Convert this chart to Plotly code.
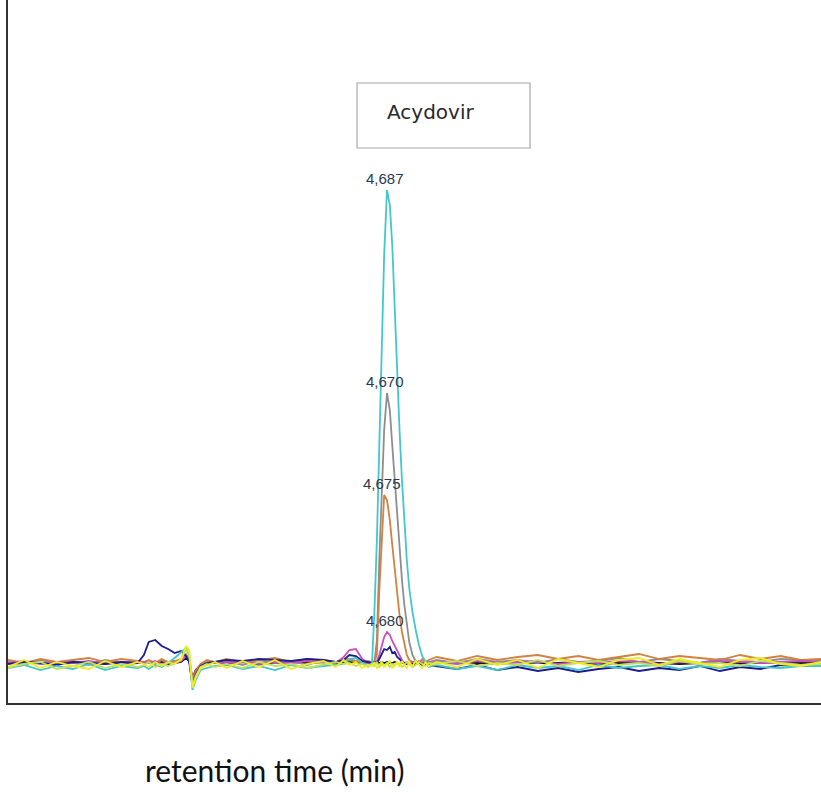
import plotly.graph_objects as go

# Retention time grid (min)
time_min = [
    0.0, 0.2, 0.4, 0.6, 0.8, 1.0, 1.2, 1.4, 1.6,
    1.68, 1.74, 1.82, 1.9, 1.98, 2.06, 2.14, 2.2, 2.24, 2.28, 2.32, 2.38, 2.46, 2.56,
    2.7, 2.9, 3.1, 3.3, 3.5, 3.7, 3.9, 4.05, 4.15, 4.22, 4.3, 4.38, 4.45,
    4.50, 4.53, 4.56, 4.59, 4.62, 4.65, 4.685, 4.72, 4.75, 4.78, 4.81, 4.84, 4.87, 4.90,
    4.93, 4.96, 5.0, 5.04, 5.08, 5.12, 5.16, 5.2,
    5.3, 5.55, 5.8, 6.05, 6.3, 6.55, 6.8, 7.05, 7.3, 7.55, 7.8, 8.05, 8.3, 8.55, 8.8,
    9.05, 9.3, 9.55, 9.8, 10.05,
]

# Detector signal (mAU) per injection
cyan_mau = [
    -0.5, -0.2, -0.7, -0.3, -0.6, -0.1, -0.7, -0.3, -0.5,
    -0.3, -0.6, -0.2, -0.4, 0.0, 0.5, 1.1, 1.5, 0.8, -2.7, -1.7, -0.7, -0.5, -0.3,
    -0.2, -0.6, -0.3, -0.7, -0.2, -0.5, -0.3, -0.2, -0.1, 0.4, 0.5, 0.0, -0.3,
    0.0, 5.3, 12.3, 21.3, 31.3, 40.8, 47.3, 45.8, 41.8, 35.3, 28.8, 23.3, 18.3, 13.8,
    10.3, 7.5, 5.1, 3.3, 1.8, 0.7, 0.1, -0.4,
    -0.2, -0.6, -0.3, -0.7, -0.2, -0.5, -0.3, -0.7, -0.2, -0.5, -0.3, -0.2, -0.6, -0.3, -0.5,
    -0.2, -0.4, -0.5, -0.3, -0.3,
]
gray_mau = [
    0.1, -0.2, 0.3, 0.0, 0.2, -0.2, 0.3, 0.0, 0.1,
    0.0, 0.2, -0.1, 0.3, 0.0, 0.1, 0.3, 0.9, 0.4, -1.8, -0.9, -0.2, 0.1, 0.0,
    0.2, -0.2, 0.3, 0.0, 0.2, -0.2, 0.3, 0.1, 0.2, 0.3, 0.2, 0.0, 0.1,
    0.0, 0.1, 2.3, 10.3, 17.3, 23.3, 27.0, 25.3, 21.8, 18.3, 14.8, 11.3, 8.3, 5.8,
    3.8, 2.1, 0.8, 0.2, 0.0, 0.1, -0.1, 0.1,
    0.3, 0.0, 0.4, 0.1, 0.3, 0.0, 0.4, 0.1, 0.2, 0.5, 0.1, 0.4, 0.2, 0.0, 0.4,
    0.2, 0.1, 0.4, 0.3, 0.3,
]
orange_mau = [
    0.3, 0.0, 0.4, 0.1, 0.3, 0.5, 0.1, 0.4, 0.2,
    0.1, 0.3, 0.0, 0.4, 0.1, 0.2, 0.4, 0.8, 0.5, -1.6, -0.8, -0.1, 0.3, 0.1,
    0.4, 0.1, 0.3, 0.5, 0.1, 0.4, 0.2, 0.1, 0.3, 0.4, 0.2, 0.1, 0.2,
    0.1, 0.2, 0.8, 7.3, 12.3, 16.8, 16.3, 14.3, 11.8, 9.3, 6.8, 4.8, 3.1, 1.8,
    0.8, 0.3, 0.1, 0.2, 0.0, 0.4, 0.1, 0.3,
    0.6, 0.2, 0.7, 0.3, 0.6, 0.8, 0.4, 0.7, 0.3, 0.6, 0.9, 0.4, 0.7, 0.5, 0.3,
    0.8, 0.4, 0.7, 0.3, 0.4,
]
magenta_mau = [
    0.0, 0.2, -0.1, 0.1, 0.0, 0.2, -0.1, 0.1, 0.0,
    0.1, 0.0, 0.2, -0.1, 0.1, 0.0, 0.2, 0.7, 0.3, -1.9, -1.0, -0.3, 0.0, 0.1,
    0.0, 0.2, -0.1, 0.1, 0.0, 0.2, 0.1, 0.0, 0.6, 1.3, 1.4, 0.4, 0.0,
    0.1, 0.0, 0.2, 0.8, 1.8, 2.6, 3.1, 2.8, 2.2, 1.7, 1.2, 0.7, 0.3, 0.0,
    0.1, -0.1, 0.1, 0.0, 0.2, 0.0, 0.1, 0.0,
    0.1, -0.1, 0.2, 0.0, 0.1, 0.2, -0.1, 0.1, 0.0, 0.2, 0.1, -0.1, 0.1, 0.0, 0.2,
    0.1, 0.0, 0.1, 0.2, 0.1,
]
navy_mau = [
    -0.1, 0.1, 0.0, -0.2, 0.1, 0.0, -0.1, 0.1, 0.0,
    0.8, 2.1, 2.3, 1.7, 1.4, 1.0, 1.2, 0.7, 0.1, -2.2, -1.2, -0.3, 0.0, 0.1,
    0.3, 0.2, 0.4, 0.3, 0.2, 0.4, 0.3, 0.1, 0.3, 0.8, 0.7, 0.2, 0.1,
    0.0, 0.1, 0.0, 0.4, 1.0, 1.4, 1.3, 1.6, 1.0, 1.1, 0.6, 0.4, 0.1, 0.0,
    -0.1, 0.0, -0.2, -0.1, 0.0, -0.2, -0.1, -0.2,
    -0.3, -0.6, -0.2, -0.7, -0.4, -0.8, -0.5, -0.9, -0.6, -0.4, -0.8, -0.5, -0.7, -0.3, -0.8,
    -0.4, -0.6, -0.2, -0.3, -0.2,
]
black_mau = [
    0.0, 0.1, 0.0, -0.1, 0.1, 0.0, 0.1, -0.1, 0.0,
    0.0, 0.1, 0.0, 0.1, -0.1, 0.0, 0.1, 0.5, 0.2, -1.5, -0.7, -0.2, 0.0, 0.1,
    0.0, 0.1, -0.1, 0.0, 0.1, 0.0, 0.1, 0.0, 0.0, 0.1, 0.0, 0.1, 0.0,
    0.0, 0.0, 0.0, 0.0, 0.1, 0.0, 0.1, 0.0, 0.0, 0.1, 0.0, -0.1, 0.0, 0.0,
    -0.1, 0.0, 0.0, 0.1, 0.0, 0.0, 0.1, 0.0,
    0.0, 0.1, 0.0, -0.1, 0.1, 0.0, 0.0, 0.1, -0.1, 0.0, 0.1, 0.0, -0.1, 0.0, 0.1,
    0.0, 0.0, 0.1, 0.0, 0.1,
]
lime_mau = [
    -0.5, -0.1, 0.1, -0.6, -0.3, 0.1, -0.5, -0.1, -0.4,
    -0.2, 0.1, -0.4, -0.1, -0.3, 0.0, 0.3, 1.4, 1.0, -2.2, -1.3, -0.4, -0.1, -0.4,
    -0.1, -0.5, 0.1, -0.3, -0.1, -0.5, -0.2, 0.1, -0.1, 0.0, -0.3, -0.1, -0.4,
    -0.1, -0.3, 0.1, -0.4, -0.1, -0.3, 0.0, -0.4, -0.1, -0.3, 0.1, -0.1, -0.4, -0.2,
    0.1, -0.1, -0.4, -0.2, 0.1, -0.1, -0.3, 0.0,
    -0.1, 0.2, -0.3, 0.0, -0.2, 0.3, -0.3, 0.0, 0.2, -0.2, 0.0, -0.3, 0.2, -0.1, 0.0,
    -0.3, 0.2, 0.0, -0.2, -0.1,
]
yellow_mau = [
    -0.4, 0.3, -0.5, 0.1, -0.3, -0.6, 0.2, -0.4, 0.1,
    -0.1, -0.4, 0.1, -0.3, 0.1, -0.1, 0.4, 1.7, 1.3, -2.5, -1.5, -0.5, -0.2, 0.1,
    -0.5, 0.2, -0.4, 0.3, -0.6, -0.1, 0.2, -0.4, 0.3, -0.2, 0.1, -0.5, -0.2,
    -0.3, 0.1, -0.5, -0.2, 0.1, -0.4, -0.1, 0.2, -0.5, -0.2, 0.1, -0.4, 0.2, -0.2,
    -0.5, 0.1, -0.3, 0.2, -0.2, -0.5, 0.1, -0.3,
    0.1, -0.4, 0.4, -0.2, 0.3, -0.5, 0.4, 0.0, -0.4, 0.3, 0.5, -0.2, 0.4, 0.0, -0.4,
    0.3, 0.5, -0.1, -0.3, 0.1,
]

series_names = ["black", "gray", "orange", "magenta", "navy", "cyan", "lime", "yellow"]
series_values = [black_mau, gray_mau, orange_mau, magenta_mau, navy_mau, cyan_mau, lime_mau, yellow_mau]
series_colors = ["#151515", "#8e8e8e", "#d2813e", "#c64fc0", "#1c1c8e", "#43c7cb", "#bfe05a", "#f0ec1e"]

# Peak retention-time labels (which series they belong to)
peak_labels = ["4,687", "4,670", "4,675", "4,680"]
peak_series = ["cyan", "gray", "orange", "magenta"]

compound_name = "Acydovir"
x_title = "retention time (min)"

fig = go.Figure()
for name, vals, col in zip(series_names, series_values, series_colors):
    fig.add_trace(go.Scatter(x=time_min, y=vals, mode="lines", name=name,
                             line=dict(color=col, width=1.8), hoverinfo="skip"))

annotations = []
for lab, sname in zip(peak_labels, peak_series):
    vals = series_values[series_names.index(sname)]
    imax = max(range(len(vals)), key=lambda i: vals[i])
    annotations.append(dict(x=time_min[imax], y=vals[imax], xref="x", yref="y",
                            text=lab, showarrow=False, yshift=12, xshift=-2,
                            font=dict(family="Liberation Sans, Arial", size=15, color="#2b3852")))

annotations.append(dict(x=0.4637, y=0.8407, xref="paper", yref="paper", xanchor="left",
                        yanchor="middle", text=compound_name, showarrow=False,
                        font=dict(family="DejaVu Sans", size=20, color="#2a2a2a")))
annotations.append(dict(x=0.3284, y=-0.0953, xref="paper", yref="paper", xanchor="center",
                        yanchor="middle", text=x_title, showarrow=False,
                        font=dict(family="Lato, Open Sans", size=30, color="#111111")))

fig.update_layout(
    width=821, height=797,
    margin=dict(l=8, r=0, t=0, b=94),
    paper_bgcolor="white", plot_bgcolor="white",
    showlegend=False,
    annotations=annotations,
    shapes=[dict(type="rect", xref="paper", yref="paper", x0=0.4293, x1=0.6421,
                 y0=0.7895, y1=0.8819, line=dict(color="#a8a8a8", width=1.2),
                 fillcolor="rgba(0,0,0,0)")],
    xaxis=dict(range=[0, 10.05], showline=True, linecolor="#333333", linewidth=2,
               showgrid=False, zeroline=False, showticklabels=False, ticks=""),
    yaxis=dict(range=[-4.0, 66.3], showline=True, linecolor="#333333", linewidth=2,
               showgrid=False, zeroline=False, showticklabels=False, ticks=""),
)

fig.write_html("out.html", config={"displayModeBar": False},
               post_script="document.body.style.margin='0px';document.body.style.overflow='hidden';")
